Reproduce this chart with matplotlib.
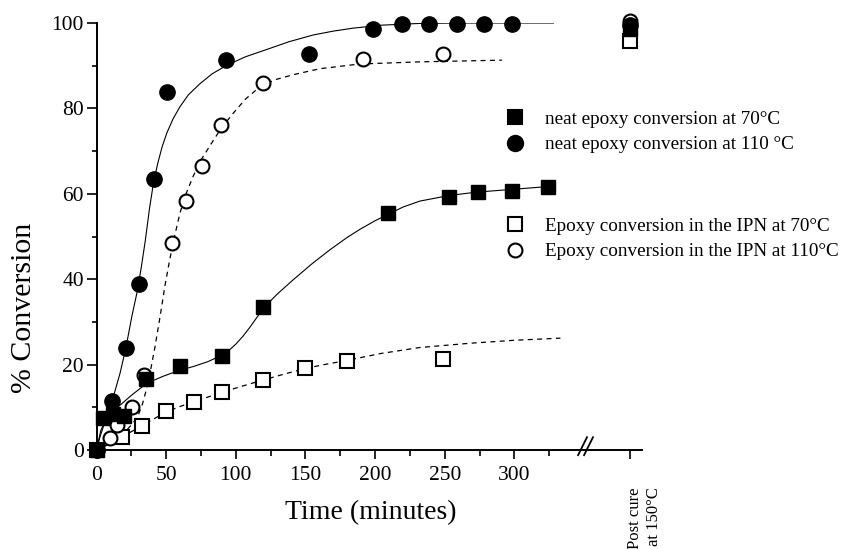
import matplotlib
matplotlib.use("Agg")
import matplotlib.pyplot as plt
from matplotlib.lines import Line2D

plt.rcParams['font.family'] = ['Liberation Serif', 'DejaVu Serif']

# measured points (time in minutes, % conversion)
neat70_t = [0, 5, 12, 20, 35.5, 60, 90, 119.3, 209, 253, 274, 298, 324]
neat70_y = [0, 7.5, 8.5, 8, 16.6, 19.7, 22, 33.4, 55.5, 59.3, 60.4, 60.6, 61.7]
neat110_t = [0, 11.3, 21, 30.7, 41.3, 50.8, 92.7, 152.3, 198.7, 219, 238.9, 258.6, 278.2, 298.3]
neat110_y = [0, 11.5, 23.8, 38.8, 63.5, 83.9, 91.3, 92.7, 98.5, 99.8, 99.8, 99.8, 99.8, 99.8]
ipn70_t = [0, 18.5, 32.4, 49.9, 70.2, 89.9, 119.7, 149.7, 179.6, 249]
ipn70_y = [0, 3.1, 5.6, 9.1, 11.3, 13.5, 16.4, 19.1, 20.8, 21.2]
ipn110_t = [0, 9.7, 14.5, 25.3, 34.3, 54.2, 64.2, 76, 89.4, 119.7, 191.1, 248.5]
ipn110_y = [0, 2.7, 5.9, 10.1, 17.6, 48.5, 58.2, 66.6, 76.1, 86, 91.6, 92.7]

# post cure at 150 C
post_x = 383
post_neat70 = 98.5
post_neat110 = 99.5
post_ipn70 = 95.8
post_ipn110 = 100.5

# fitted curves
fit_neat110_t = [0, 2.5, 7.3, 12.1, 16.9, 21, 25.3, 29, 32, 35, 38, 41, 44, 47, 50.4, 55, 59.9,
                 66, 74.3, 83, 93.5, 107, 122.2, 138, 155.6, 170, 184.3, 205, 232, 260, 328]
fit_neat110_y = [0, 3.1, 7.8, 12.5, 18, 23.8, 31.2, 36.8, 42.5, 49, 56.5, 62.8, 67.2, 70.9, 74.2, 77.6, 80.4,
                 83.2, 85.8, 88.1, 90.1, 92.1, 93.8, 95.6, 97.2, 98.1, 98.8, 99.5, 99.9, 100, 100]
fit_ipn110_t = [0, 9.7, 16, 21.7, 26, 30, 33, 35.5, 38.4, 42, 45.6, 49.2, 52, 55, 59.9, 64.5, 69.5,
                75, 81.5, 89, 98.2, 107, 117.4, 128, 141.3, 160.4, 189, 232, 291]
fit_ipn110_y = [0, 1.6, 3.1, 4.7, 6.2, 8.2, 10.8, 13.8, 18, 24.2, 31.2, 38.6, 43.6, 48.6, 55.5, 60.2, 64.2,
                67.9, 71.3, 75.1, 78.9, 82.2, 85.1, 86.7, 87.9, 89.3, 90.4, 90.9, 91.3]
fit_neat70_t = [0, 3, 7, 12, 18, 25, 36, 48, 59.9, 70, 80, 90, 95, 100, 105, 110, 115, 120, 130,
                141.3, 155, 167.6, 180, 189.2, 200, 208.8, 220, 232.2, 253, 273, 297, 324]
fit_neat70_y = [0, 4.5, 7.5, 9.3, 10.8, 12.8, 15.6, 17.3, 18.7, 19.6, 20.7, 22.2, 23.3, 24.8, 26.6, 28.7, 31, 33.3, 36.6,
                39.9, 43.7, 46.9, 49.8, 51.7, 53.7, 55.1, 56.9, 58.3, 59.6, 60.4, 61, 61.7]
fit_ipn70_t = [0, 10, 18.5, 25, 32.4, 39.6, 49.9, 60, 70.2, 80, 89.9, 105, 119.7, 135, 149.7, 165,
               180, 204, 232, 268, 300, 333]
fit_ipn70_y = [0, 1.5, 3.1, 4.3, 5.6, 7, 8.9, 10.2, 11.3, 12.4, 13.5, 15, 16.4, 17.8, 19.1, 20.1,
               21, 22.6, 24, 25, 25.7, 26.2]

fig = plt.figure(figsize=(8.43, 5.49), dpi=100)
ax = fig.add_axes([0.1145, 0.1803, 0.6471, 0.7778])

dash = (0, (4, 3.5))
ax.plot(fit_neat110_t, fit_neat110_y, color='black', lw=0.8)
ax.plot(fit_neat70_t, fit_neat70_y, color='black', lw=0.8)
ax.plot(fit_ipn110_t, fit_ipn110_y, color='black', lw=0.9, linestyle=dash)
ax.plot(fit_ipn70_t, fit_ipn70_y, color='black', lw=0.9, linestyle=dash)

ms = dict(linestyle='none', clip_on=False, zorder=5, markeredgecolor='black')
ax.plot(ipn70_t + [post_x], ipn70_y + [post_ipn70], marker='s', ms=9.5,
        mfc='white', mew=1.5, **ms)
ax.plot(ipn110_t + [post_x], ipn110_y + [post_ipn110], marker='o', ms=10,
        mfc='white', mew=1.5, **ms)
ax.plot(neat70_t + [post_x], neat70_y + [post_neat70], marker='s', ms=10,
        mfc='black', **ms)
ax.plot(neat110_t + [post_x], neat110_y + [post_neat110], marker='o', ms=11,
        mfc='black', **ms)

ax.set_xlim(0, 391.6)
ax.set_ylim(0, 100)
for s in ['top', 'right']:
    ax.spines[s].set_visible(False)
ax.spines['left'].set_linewidth(1.4)
ax.spines['bottom'].set_linewidth(1.4)

ax.set_xticks([0, 50, 100, 150, 200, 250, 300, post_x])
ax.set_xticklabels(['0', '50', '100', '150', '200', '250', '300', ''])
ax.set_xticks([25, 75, 125, 175, 225, 275, 325], minor=True)
ax.set_yticks([0, 20, 40, 60, 80, 100])
ax.set_yticks([10, 30, 50, 70, 90], minor=True)
ax.tick_params(axis='x', which='major', length=6.5, width=1.2, labelsize=15.5, pad=5)
ax.tick_params(axis='x', which='minor', length=4, width=1.2)
ax.tick_params(axis='y', which='major', length=7, width=1.2, labelsize=15.5, pad=2)
ax.tick_params(axis='y', which='minor', length=3.6, width=1.2)

# axis break marks
ax.plot([345.7, 352.1], [-1.2, 3.0], color='black', lw=1.3, clip_on=False)
ax.plot([350.0, 356.4], [-1.2, 3.0], color='black', lw=1.3, clip_on=False)

ax.text(381, -8.7, 'Post cure\nat 150°C', rotation=90, ha='left', va='top',
        multialignment='right', fontsize=12)

ax.set_xlabel('Time (minutes)', fontsize=20)
ax.xaxis.set_label_coords(0.503, -0.118)
ax.set_ylabel('% Conversion', fontsize=21.5)
ax.yaxis.set_label_coords(-0.11, 0.334)

def proxy(marker, fill, size):
    return Line2D([], [], linestyle='none', marker=marker, ms=size,
                  mfc=fill, mec='black', mew=1.5)

leg_kw = dict(loc='center left', bbox_transform=fig.transFigure, frameon=False, fontsize=13.8,
              handlelength=1.0, handletextpad=1.1, borderpad=0, borderaxespad=0,
              labelspacing=0.42)
leg1 = ax.legend([proxy('s', 'black', 10), proxy('o', 'black', 11)],
                 ['neat epoxy conversion at 70°C', 'neat epoxy conversion at 110 °C'],
                 bbox_to_anchor=(505 / 843, 1 - 132 / 549), **leg_kw)
ax.add_artist(leg1)
ax.legend([proxy('s', 'white', 9.5), proxy('o', 'white', 10)],
          ['Epoxy conversion in the IPN at 70°C', 'Epoxy conversion in the IPN at 110°C'],
          bbox_to_anchor=(505 / 843, 1 - 239 / 549), **leg_kw)

fig.savefig('out.png', dpi=100)
